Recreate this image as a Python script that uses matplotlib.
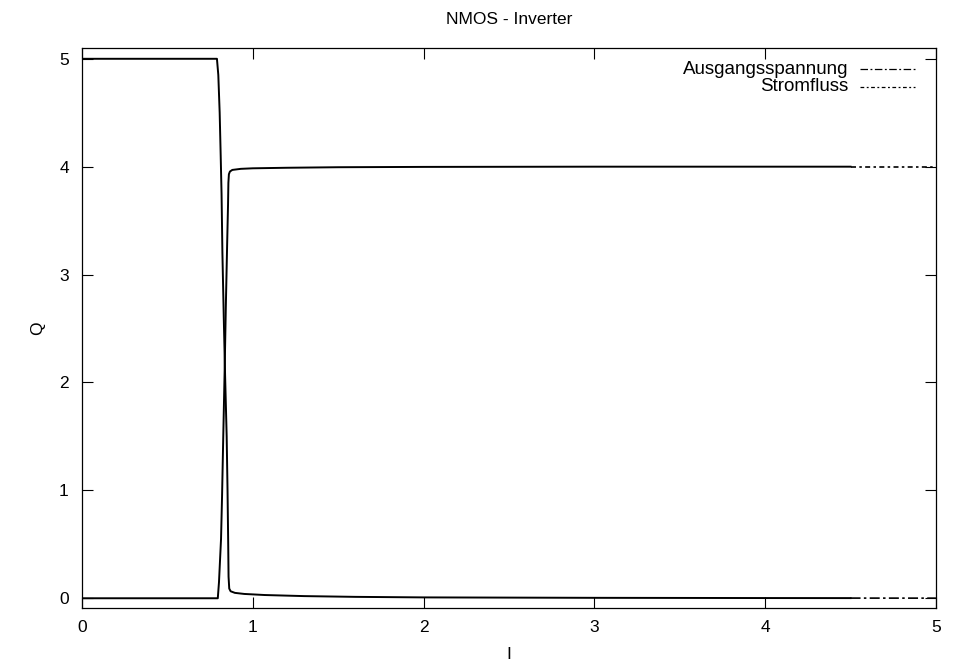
import numpy as np
import matplotlib
matplotlib.use('Agg')
import matplotlib.pyplot as plt

plt.rcParams['font.family'] = ['Liberation Sans', 'DejaVu Sans']

# values (input I vs. output Q)
x_aus = np.array([0, 0.50, 0.790, 0.798, 0.806, 0.812, 0.817, 0.822, 0.830,
                  0.838, 0.847, 0.852, 0.856, 0.858, 0.862, 0.870, 0.895,
                  0.95, 1.07, 1.3, 1.6, 2.0, 3.0, 4.0, 5.0])
y_aus = np.array([5, 5, 5.0, 4.85, 4.5, 4.1, 3.75, 3.2, 2.6,
                  2.05, 1.5, 1.0, 0.5, 0.2, 0.09, 0.065, 0.05,
                  0.04, 0.03, 0.02, 0.013, 0.008, 0.004, 0.002, 0.001])

x_strom = np.array([0, 0.50, 0.795, 0.802, 0.808, 0.814, 0.820, 0.827,
                    0.835, 0.842, 0.850, 0.855, 0.857, 0.860, 0.866, 0.880,
                    0.93, 1.0, 1.2, 1.5, 2.0, 3.0, 4.0, 5.0])
y_strom = np.array([0, 0, 0.0, 0.15, 0.35, 0.55, 0.95, 1.5,
                    2.1, 2.7, 3.3, 3.65, 3.85, 3.93, 3.955, 3.97,
                    3.98, 3.985, 3.99, 3.995, 3.998, 4.0, 4.0, 4.0])

labels = ['Ausgangsspannung', 'Stromfluss']
styles = [(0, (6, 2, 1.5, 2)), (0, (3, 2, 1.5, 2))]

fig = plt.figure(figsize=(9.56, 6.63), dpi=100)
ax = fig.add_axes([0.0858, 0.083, 0.8932, 0.8446])

xb = 4.5  # gnuplot draws the dense part as solid, the tail shows the dash pattern
for xs, ys, ls in [(x_aus, y_aus, styles[0]), (x_strom, y_strom, styles[1])]:
    yb = np.interp(xb, xs, ys)
    ax.plot(np.r_[xs[xs < xb], xb], np.r_[ys[xs < xb], yb],
            color='black', lw=1.4, solid_joinstyle='round')
    ax.plot(np.r_[xb, xs[xs > xb]], np.r_[yb, ys[xs > xb]],
            color='black', lw=1.2, linestyle=ls)

ax.set_xlim(0, 5)
ax.set_ylim(-0.09, 5.1)
ax.set_xticks(range(6))
ax.set_yticks(range(6))
ax.tick_params(direction='in', length=8, width=0.8, top=True, right=True,
               labelsize=12.5, colors='black')
ax.tick_params(axis='x', pad=9)
ax.tick_params(axis='y', pad=9.5)
for sp in ax.spines.values():
    sp.set_linewidth(0.9)

ax.set_title('NMOS - Inverter', fontsize=12.5, pad=17)
ax.set_xlabel('I', fontsize=12.5, labelpad=8.5)
ax.set_ylabel('Q', fontsize=12.5, labelpad=10)

# gnuplot-style key: right-aligned text, sample to the right
for i, (lab, ls) in enumerate(zip(labels, styles)):
    yk = 0.962 - i * 0.031
    ax.text(0.897, yk, lab, transform=ax.transAxes, ha='right', va='center', fontsize=13.5)
    ax.plot([0.911, 0.975], [yk, yk], transform=ax.transAxes, color='black',
            lw=0.9, linestyle=ls, clip_on=False)

fig.savefig('out.png', dpi=100)
